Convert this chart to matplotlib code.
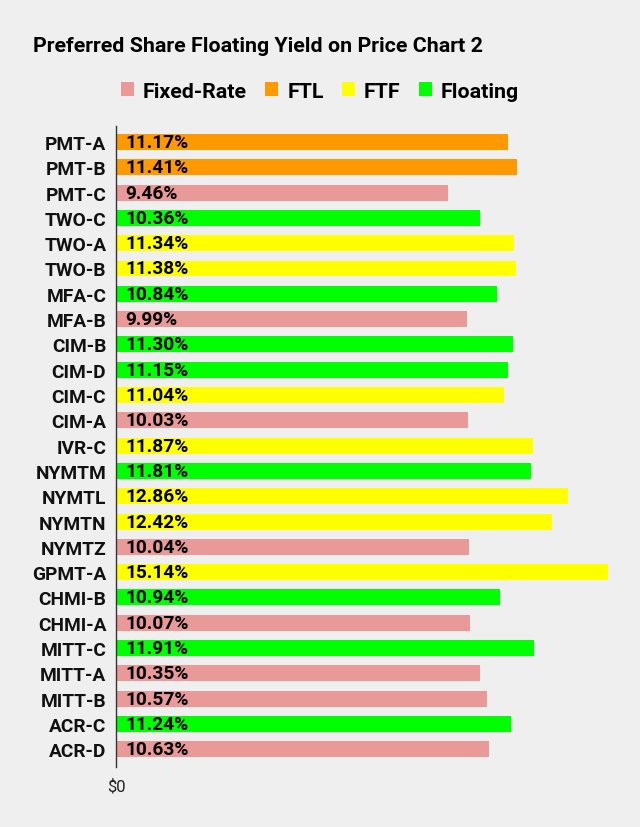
import matplotlib
matplotlib.use("Agg")
import matplotlib.pyplot as plt
from matplotlib.patches import Patch

plt.rcParams['font.family'] = ['Roboto', 'DejaVu Sans']

tickers = ['PMT-A', 'PMT-B', 'PMT-C', 'TWO-C', 'TWO-A', 'TWO-B', 'MFA-C', 'MFA-B',
           'CIM-B', 'CIM-D', 'CIM-C', 'CIM-A', 'IVR-C', 'NYMTM', 'NYMTL', 'NYMTN',
           'NYMTZ', 'GPMT-A', 'CHMI-B', 'CHMI-A', 'MITT-C', 'MITT-A', 'MITT-B',
           'ACR-C', 'ACR-D']
yields = [11.17, 11.41, 9.46, 10.36, 11.34, 11.38, 10.84, 9.99,
          11.30, 11.15, 11.04, 10.03, 11.87, 11.81, 12.86, 12.42,
          10.04, 15.14, 10.94, 10.07, 11.91, 10.35, 10.57,
          11.24, 10.63]
kinds = ['FTL', 'FTL', 'Fixed-Rate', 'Floating', 'FTF', 'FTF', 'Floating', 'Fixed-Rate',
         'Floating', 'Floating', 'FTF', 'Fixed-Rate', 'FTF', 'Floating', 'FTF', 'FTF',
         'Fixed-Rate', 'FTF', 'Floating', 'Fixed-Rate', 'Floating', 'Fixed-Rate', 'Fixed-Rate',
         'Floating', 'Fixed-Rate']

colores = {'Fixed-Rate': '#ea9999', 'FTL': '#ff9900', 'FTF': '#ffff00', 'Floating': '#00ff00'}
fondo = '#efefef'

fig = plt.figure(figsize=(6.4, 8.28), dpi=100, facecolor=fondo)
ax = fig.add_axes([0.1817, 0.0728, 0.9495 - 0.1817, 0.847 - 0.0728])
ax.set_facecolor(fondo)

pos = list(range(len(tickers)))
ax.barh(pos, yields, height=0.63, color=[colores[k] for k in kinds])

# etiquetas de valor dentro de la barra
for i, v in enumerate(yields):
    ax.annotate(f'{v:.2f}%', xy=(0, i), xytext=(6.3, 0), textcoords='offset points',
                va='center', ha='left', fontsize=13.8, fontweight='bold', color='#000000')

ax.set_xlim(0, 14)
ax.set_ylim(24.69, -0.644)
ax.set_yticks(pos)
ax.set_yticklabels(tickers, fontsize=13.8, fontweight='bold', color='#111111')
ax.set_xticks([0])
ax.set_xticklabels(['$0'], fontsize=12, color='#222222')
ax.tick_params(axis='y', length=0, pad=7.2)
ax.tick_params(axis='x', length=0, pad=8)
for s in ['top', 'right', 'bottom']:
    ax.spines[s].set_visible(False)
ax.spines['left'].set_color('#333333')
ax.spines['left'].set_linewidth(1.0)

fig.text(33 / 640, 1 - 52.3 / 828, 'Preferred Share Floating Yield on Price Chart 2',
         fontsize=15.4, fontweight='bold', color='#000000', va='baseline', ha='left')

handles = [Patch(facecolor=colores[k], edgecolor='none', label=k)
           for k in ['Fixed-Rate', 'FTL', 'FTF', 'Floating']]
leg = fig.legend(handles=handles, loc='center', bbox_to_anchor=(0.5, 1 - 92 / 828), ncol=4,
                 frameon=False, handlelength=0.6, handleheight=0.6, handletextpad=0.42,
                 columnspacing=0.86, prop={'size': 15.4, 'weight': 'bold'})

fig.savefig('out.png', dpi=100, facecolor=fondo)
